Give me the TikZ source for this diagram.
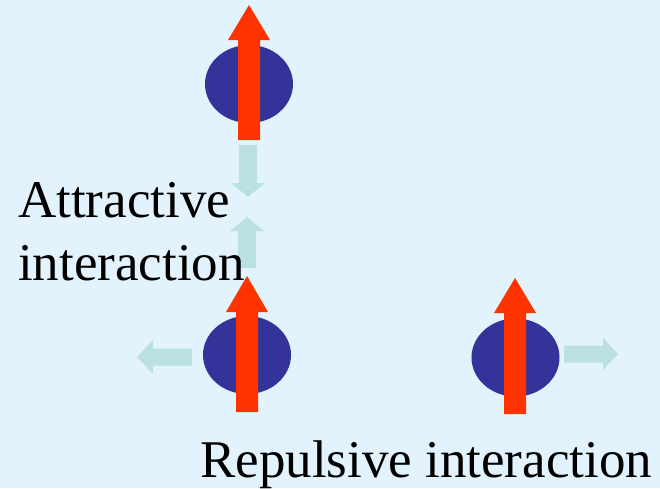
\documentclass[tikz,border=0pt]{standalone}
\usepackage{fontspec}
\setmainfont{Liberation Serif}
\usetikzlibrary{shapes.geometric}
\definecolor{bgblue}{RGB}{227,243,253}
\definecolor{spinblue}{RGB}{51,51,153}
\definecolor{spinred}{RGB}{255,51,0}
\definecolor{forcecyan}{RGB}{187,224,228}
\tikzset{
  particle/.style={ellipse, fill=spinblue, minimum width=88pt, minimum height=78pt, inner sep=0pt},
  spin/.style={fill=spinred},
  force/.style={fill=forcecyan},
  labeltext/.style={font=\fontsize{53}{63}\selectfont, inner sep=0pt, align=left}
}
\begin{document}
\begin{tikzpicture}[x=1pt,y=-1pt]
    \useasboundingbox[fill=bgblue] (0,0) rectangle (660,488);

    %Particles
    \node[particle] (top) at (249,84) {};
    \node[particle] (left) at (247,355) {};
    \node[particle] (right) at (515.5,357.5) {};

    %Spin of top particle
    \fill[spin] (249,5) -- (270,40) -- (260,40) -- (260,140) -- (238,140) -- (238,40) -- (228,40) -- cycle;
    %Spin of left particle
    \fill[spin] (247,276) -- (268,312) -- (258,312) -- (258,412) -- (236,412) -- (236,312) -- (226,312) -- cycle;
    %Spin of right particle
    \fill[spin] (515,278) -- (536,313) -- (526,313) -- (526,414) -- (504,414) -- (504,313) -- (494,313) -- cycle;

    %Attraction arrows
    \fill[force] (248,197) -- (265,183) -- (257,183) -- (257,145) -- (239,145) -- (239,183) -- (231,183) -- cycle;
    \fill[force] (247,217) -- (264,231) -- (256,231) -- (256,268) -- (238,268) -- (238,231) -- (230,231) -- cycle;

    %Repulsion arrows
    \fill[force] (137,357) -- (153,340) -- (153,348.5) -- (192,348.5) -- (192,365.5) -- (153,365.5) -- (153,374) -- cycle;
    \fill[force] (618,354) -- (603,338) -- (603,345.5) -- (564,345.5) -- (564,362.5) -- (603,362.5) -- (603,370) -- cycle;

    %Labels
    \node[labeltext, anchor=base west] (attract1) at (18,217) {Attractive};
    \node[labeltext, anchor=base west] (attract2) at (18,280) {interaction};
    \node[labeltext, anchor=base west] (repel) at (200,477) {Repulsive interaction};
\end{tikzpicture}
\end{document}
